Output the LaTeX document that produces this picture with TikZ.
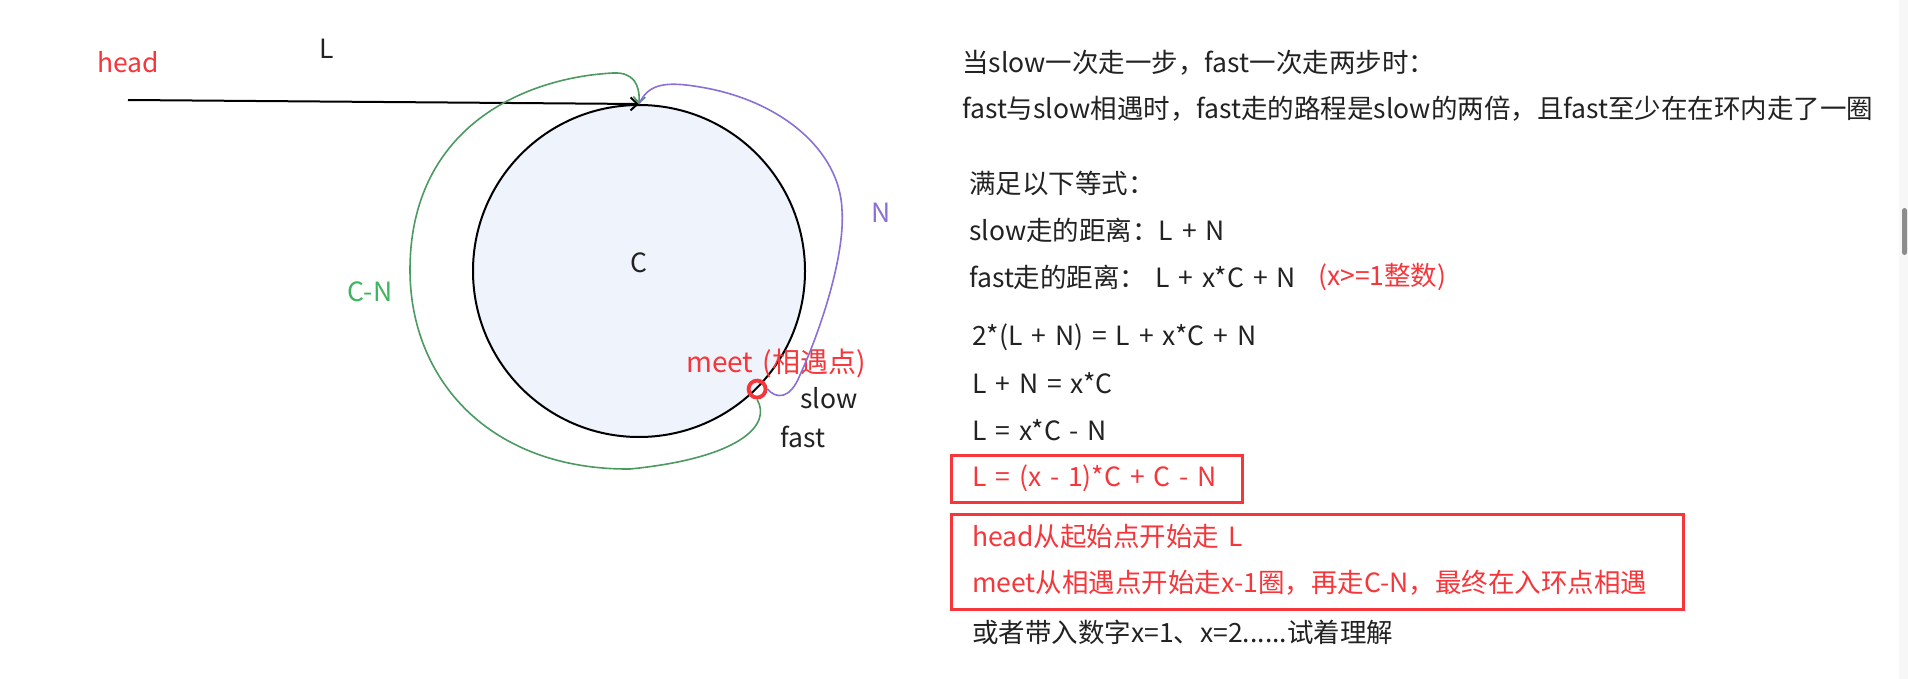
\documentclass[tikz,border=0pt]{standalone}
\usepackage{fontspec}
\setmainfont[WordSpace=1.5]{Noto Sans CJK SC}
\usetikzlibrary{arrows.meta}

\definecolor{hlred}{HTML}{F5363B}
\definecolor{cngreen}{HTML}{4C9A62}
\definecolor{cnlabel}{HTML}{3DB45E}
\definecolor{npurple}{HTML}{8A70D6}
\definecolor{ringfill}{HTML}{EEF3FC}
\definecolor{inkgray}{HTML}{222222}

\tikzset{
  lbl/.style={font=\fontsize{26.5}{32}\selectfont, text=inkgray, inner sep=0pt},
  redlbl/.style={lbl, text=hlred},
  txtline/.style={lbl, anchor=west},
  redline/.style={txtline, text=hlred},
  ring/.style={draw=black, line width=2pt, fill=ringfill, circle,
    minimum size=332pt, inner sep=0pt},
  meetpt/.style={draw=hlred, line width=3.8pt, circle, minimum size=17pt, inner sep=0pt},
  cnpath/.style={draw=cngreen, line width=1.6pt},
  npath/.style={draw=npurple, line width=1.6pt},
  redbox/.style={draw=hlred, line width=3pt},
}

\begin{document}
\begin{tikzpicture}[x=1pt, y={(0pt,-1pt)}]
    \useasboundingbox[fill=white] (0,0) rectangle (1908,679);

    % the list and the loop
    \node[ring] (loop) at (639,271) {};
    \node[lbl] (clbl) at (639,263) {C};
    \coordinate (start) at (128,100);
    \draw[line width=2pt, -{Straight Barb[length=7pt, width=13pt]}] (start) -- (loop.north);
    \node[redlbl] (headlbl) at (128,62) {head};
    \node[lbl] (llbl) at (327,49) {L};

    % meeting point
    \node[meetpt] (meet) at (loop.-45) {};
    \node[redlbl, font=\fontsize{28}{32}\selectfont] (meetlbl) at (776,363) {meet (相遇点)};
    \node[lbl] (slowlbl) at (829,398) {slow};
    \node[lbl] (fastlbl) at (803,437) {fast};

    % C-N, back to the entry
    \draw[cnpath, -{Straight Barb[length=6pt, width=12pt]}] (meet.south)
      .. controls (772,425) and (740,458) .. (630,469)
      .. controls (490,470) and (410,380) .. (410,270)
      .. controls (410,130) and (520,78) .. (613,73)
      .. controls (633,72) and (640,84) .. (loop.north);
    \node[lbl, text=cnlabel] (cnlbl) at (370,292) {C-N};

    % N, from the entry to meet
    \draw[npath] (meet.east)
      .. controls (776,399) and (790,400) .. (800,375)
      .. controls (825,320) and (845,250) .. (842,210)
      .. controls (840,150) and (780,100) .. (700,87)
      .. controls (665,81) and (648,84) .. (loop.north);
    \node[lbl, text=npurple] (nlbl) at (881,213) {N};

    % the reasoning
    \node[txtline] (t1) at (962,63) {当slow一次走一步，fast一次走两步时：};
    \node[txtline] (t2) at (962,109) {fast与slow相遇时，fast走的路程是slow的两倍，且fast至少在在环内走了一圈};
    \node[txtline] (t3) at (969,183) {满足以下等式：};
    \node[txtline] (t4) at (969,230) {slow走的距离：L + N};
    \node[txtline] (t5) at (969,277) {fast走的距离：\ L + x*C + N};
    \node[redline] (t5b) at (1318,277) {(x>=1整数)};
    \node[txtline] (t6) at (972,337) {2*(L + N) = L + x*C + N};
    \node[txtline] (t7) at (972,383) {L + N = x*C};
    \node[txtline] (t8) at (972,430) {L = x*C - N};
    \node[redline] (t9) at (972,478) {L = (x - 1)*C + C - N};
    \node[redline] (t10) at (972,537) {head从起始点开始走 L};
    \node[redline] (t11) at (972,583) {meet从相遇点开始走x-1圈，再走C-N，最终在入环点相遇};
    \node[txtline] (t12) at (972,632) {或者带入数字x=1、x=2......试着理解};
    \draw[redbox] (951,455) rectangle (1242,502);
    \draw[redbox] (951,514) rectangle (1683,609);

    % scrollbar
    \fill[black!3] (1899,0) rectangle (1908,679);
    \fill[black!45, rounded corners=2.5pt] (1902,208) rectangle (1907,255);
\end{tikzpicture}
\end{document}
